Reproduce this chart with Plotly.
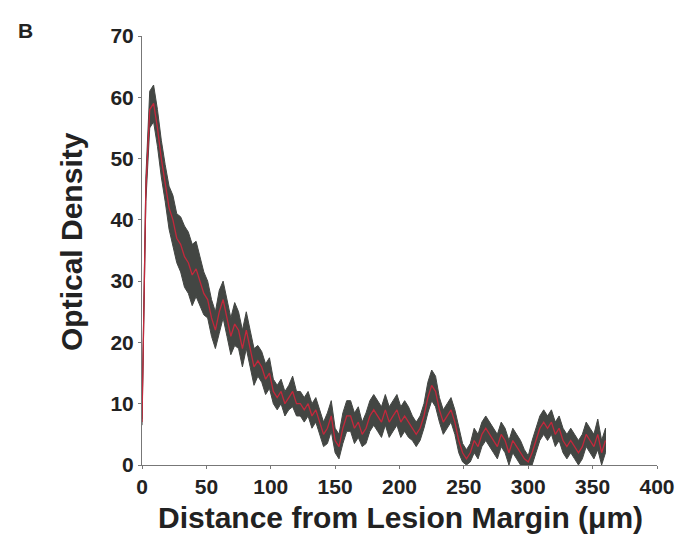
import plotly.graph_objects as go

distance = [0, 3, 6, 9, 12, 15, 18, 21, 24, 27, 30, 33, 36, 39, 42, 45, 48, 51, 54, 57,
            60, 63, 66, 69, 72, 75, 78, 81, 84, 87, 90, 93, 96, 99, 102, 105, 108, 111, 114, 117,
            120, 123, 126, 129, 132, 135, 138, 141, 144, 147, 150, 153, 156, 159, 162, 165, 168, 171, 174, 177,
            180, 183, 186, 189, 192, 195, 198, 201, 204, 207, 210, 213, 216, 219, 222, 225, 228, 231, 234, 237,
            240, 243, 246, 249, 252, 255, 258, 261, 264, 267, 270, 273, 276, 279, 282, 285, 288, 291, 294, 297,
            300, 303, 306, 309, 312, 315, 318, 321, 324, 327, 330, 333, 336, 339, 342, 345, 348, 351, 354, 357, 360]

density = [7, 45, 58, 59, 55, 50, 46, 42, 40, 37, 36, 34, 33, 31, 32, 30, 28, 27, 24, 22,
           25, 27, 24, 21, 23, 22, 19, 22, 19, 16, 17, 16, 14, 15, 12, 11, 12, 10, 11, 12,
           10, 10, 9, 10, 8, 9, 7, 5, 6, 8, 4, 3, 6, 8, 8, 6, 7, 5, 6, 8,
           9, 8, 7, 9, 7, 8, 9, 7, 8, 7, 6, 5, 6, 8, 11, 13, 12, 9, 7, 8,
           9, 7, 4, 2, 1, 2, 4, 3, 5, 6, 5, 4, 3, 5, 4, 2, 4, 3, 2, 1,
           0.5, 2, 4, 6, 7, 6, 7, 5, 6, 4, 3, 4, 3, 2, 3, 5, 4, 3, 5, 2, 4]

sem = [0.5, 2, 3, 3, 3, 3, 3, 3.5, 4, 4, 4.5, 5, 5, 5, 4.5, 4, 3.5, 3, 3, 3,
       3.5, 3, 3, 3, 3.5, 3, 3, 3, 3, 3, 2.5, 2.5, 2.5, 2.5, 2, 2, 2, 2, 2, 2.5,
       2, 2, 2, 2, 2, 2, 2, 2, 2.5, 2.5, 2, 2, 2.5, 2.5, 2.5, 2.5, 2.5, 2, 2.5, 2.5,
       2.5, 2.5, 2.5, 2.5, 2.5, 2.5, 2.5, 2.5, 2.5, 2.5, 2, 2, 2, 2, 2.5, 2.5, 2.5, 2, 2, 2,
       2, 2, 2, 1.5, 1.5, 1.5, 2, 2, 2, 2, 2, 2, 2, 2, 2, 2, 2, 2, 2, 1.5,
       1, 2, 2, 2, 2, 2, 2, 2, 2, 2, 2, 2, 2, 2, 2, 2, 2, 2, 2.5, 2, 2]

upper = [m + s for m, s in zip(density, sem)]
lower = [max(m - s, 0) for m, s in zip(density, sem)]

y_ticks = [0, 10, 20, 30, 40, 50, 60, 70]
x_ticks = [0, 50, 100, 150, 200, 250, 300, 350, 400]

W, H = 694, 539
ML, MR, MT, MB = 142, 37, 36, 74
PW, PH = W - ML - MR, H - MT - MB

fig = go.Figure()
fig.add_trace(go.Scatter(
    x=distance + distance[::-1], y=upper + lower[::-1],
    fill="toself", fillcolor="#434643", line=dict(color="#434643", width=1),
    mode="lines", hoverinfo="skip", showlegend=False))
fig.add_trace(go.Scatter(
    x=distance, y=density, mode="lines",
    line=dict(color="#c4283c", width=1.3), showlegend=False))

fig.update_layout(
    width=W, height=H,
    margin=dict(l=ML, r=MR, t=MT, b=MB),
    paper_bgcolor="white", plot_bgcolor="white",
    font=dict(family="Liberation Sans, Arial, sans-serif", color="#222222"),
    showlegend=False,
    annotations=[
        dict(text="<b>B</b>", xref="paper", yref="paper",
             x=(25 - ML) / PW, y=1 + (MT - 30) / PH, xanchor="center", yanchor="middle",
             showarrow=False, font=dict(size=21, color="#222222")),
        dict(text="<b>Distance from Lesion Margin (μm)</b>", xref="paper", yref="paper",
             x=(400 - ML) / PW, y=-(517 - (MT + PH)) / PH, xanchor="center", yanchor="middle",
             showarrow=False, font=dict(size=30, color="#222222")),
        dict(text="<b>Optical Density</b>", xref="paper", yref="paper", textangle=-90,
             x=(72 - ML) / PW, y=1 - (242 - MT) / PH, xanchor="center", yanchor="middle",
             showarrow=False, font=dict(size=30, color="#222222")),
    ],
)
fig.update_xaxes(
    range=[0, 400], tickvals=x_ticks, ticktext=[f"<b>{v}</b>" for v in x_ticks],
    showgrid=False, zeroline=False, showline=True, linecolor="#777777", linewidth=1,
    ticks="outside", ticklen=3, tickcolor="#777777", tickfont=dict(size=21, color="#222222"))
fig.update_yaxes(
    range=[0, 70], tickvals=y_ticks, ticktext=[f"<b>{v}</b>" for v in y_ticks],
    showgrid=False, zeroline=False, showline=True, linecolor="#777777", linewidth=1,
    ticks="outside", ticklen=3, tickcolor="#777777", tickfont=dict(size=21, color="#222222"))

fig.write_html("out.html")
